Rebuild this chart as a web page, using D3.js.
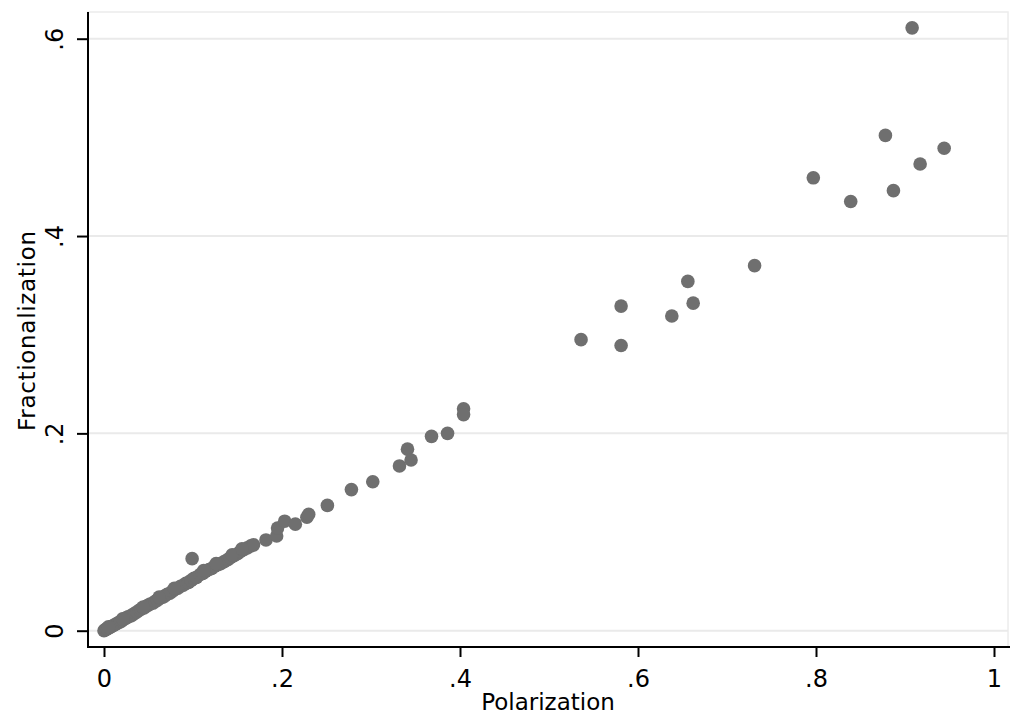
<!DOCTYPE html>
<html>
<head>
<meta charset="utf-8">
<script src="https://cdn.jsdelivr.net/npm/d3@7"></script>
<style>
  html, body { margin: 0; padding: 0; background: #fff; }
  svg { display: block; }
  text { font-family: "DejaVu Sans", sans-serif; }
</style>
</head>
<body>
<svg id="chart" width="1010" height="721"></svg>
<script>
// ---- Data ----
const xTicks = [0, 0.2, 0.4, 0.6, 0.8, 1];
const yTicks = [0, 0.2, 0.4, 0.6];
const xTitle = "Polarization";
const yTitle = "Fractionalization";

// Polarization values
const polarization = [
  0.000, 0.001, 0.002, 0.003, 0.004, 0.006, 0.008, 0.010, 0.012, 0.014,
  0.016, 0.018, 0.020, 0.023, 0.025, 0.027, 0.030, 0.032, 0.035, 0.037,
  0.040, 0.042, 0.045, 0.048, 0.050, 0.052, 0.055, 0.058, 0.060, 0.063,
  0.066, 0.068, 0.071, 0.074, 0.077, 0.080, 0.083, 0.086, 0.089, 0.092,
  0.095, 0.098, 0.101, 0.104, 0.108, 0.111, 0.114, 0.118, 0.121, 0.124,
  0.128, 0.131, 0.135, 0.139, 0.142, 0.146, 0.150, 0.153, 0.157, 0.161,
  0.165, 0.168, 0.182, 0.194, 0.195, 0.203, 0.215, 0.228, 0.230, 0.251,
  0.278, 0.302, 0.332, 0.341, 0.345, 0.368, 0.386, 0.404, 0.404, 0.099,
  0.536, 0.581, 0.581, 0.638, 0.656, 0.662, 0.731,
  0.797, 0.839, 0.878, 0.887, 0.908, 0.917, 0.944,
  0.005, 0.021, 0.044, 0.062, 0.079, 0.112, 0.126, 0.144, 0.155
];
// Fractionalization values
const fractionalization = [
  0.000, 0.001, 0.001, 0.002, 0.002, 0.003, 0.004, 0.005, 0.006, 0.007,
  0.008, 0.009, 0.010, 0.012, 0.013, 0.014, 0.015, 0.016, 0.018, 0.019,
  0.021, 0.022, 0.023, 0.025, 0.026, 0.027, 0.028, 0.030, 0.031, 0.033,
  0.034, 0.035, 0.037, 0.038, 0.040, 0.042, 0.043, 0.045, 0.046, 0.048,
  0.049, 0.051, 0.053, 0.054, 0.057, 0.058, 0.060, 0.062, 0.063, 0.065,
  0.067, 0.068, 0.070, 0.072, 0.074, 0.076, 0.078, 0.080, 0.082, 0.084,
  0.086, 0.087, 0.092, 0.096, 0.104, 0.111, 0.108, 0.115, 0.118, 0.127,
  0.143, 0.151, 0.167, 0.184, 0.173, 0.197, 0.200, 0.225, 0.219, 0.073,
  0.295, 0.329, 0.289, 0.319, 0.354, 0.332, 0.370,
  0.459, 0.435, 0.502, 0.446, 0.611, 0.473, 0.489,
  0.004, 0.012, 0.024, 0.034, 0.043, 0.061, 0.068, 0.077, 0.083
];

// ---- Layout ----
const svg = d3.select("#chart");
const axisLeftX = 88, axisBottomY = 647, plotTop = 12, plotRight = 1008;

const x = d3.scaleLinear().domain([0, 1]).range([104, 994]);
const y = d3.scaleLinear().domain([0, 0.6]).range([630.7, 38.7]);

const fmt = d => d === 0 ? "0" : d === 1 ? "1" : String(d).replace(/^0/, "");

// plot region outline
svg.append("rect")
  .attr("x", axisLeftX).attr("y", plotTop)
  .attr("width", plotRight - axisLeftX).attr("height", axisBottomY - plotTop)
  .attr("fill", "none").attr("stroke", "#ececec").attr("stroke-width", 1.5);

// gridlines
svg.append("g").selectAll("line").data(yTicks).join("line")
  .attr("x1", axisLeftX).attr("x2", plotRight)
  .attr("y1", d => y(d)).attr("y2", d => y(d))
  .attr("stroke", "#eaeaea").attr("stroke-width", 2);

// points
const pts = polarization.map((p, i) => ({ p, f: fractionalization[i] }));
svg.append("g").selectAll("circle").data(pts).join("circle")
  .attr("cx", d => x(d.p)).attr("cy", d => y(d.f))
  .attr("r", 6.8).attr("fill", "#6f6f6f");

// x axis
const gx = svg.append("g").attr("transform", `translate(0,${axisBottomY})`)
  .call(d3.axisBottom(x).tickValues(xTicks).tickFormat(fmt).tickSize(10).tickSizeOuter(0));
gx.select(".domain").remove();
gx.selectAll(".tick line").attr("stroke", "#000").attr("stroke-width", 2);
gx.selectAll(".tick text").attr("y", 40).attr("dy", 0)
  .attr("font-size", 24).attr("fill", "#000").attr("font-family", "DejaVu Sans");

// y axis
const gy = svg.append("g").attr("transform", `translate(${axisLeftX},0)`)
  .call(d3.axisLeft(y).tickValues(yTicks).tickFormat(fmt).tickSize(11).tickSizeOuter(0));
gy.select(".domain").remove();
gy.selectAll(".tick line").attr("stroke", "#000").attr("stroke-width", 2);
gy.selectAll(".tick text")
  .attr("x", 0).attr("y", 0).attr("dy", 0)
  .attr("text-anchor", "middle")
  .attr("transform", "translate(-25,0) rotate(-90)")
  .attr("font-size", 24).attr("fill", "#000").attr("font-family", "DejaVu Sans");

// axis lines
svg.append("line").attr("x1", axisLeftX - 1).attr("x2", plotRight + 2)
  .attr("y1", axisBottomY).attr("y2", axisBottomY)
  .attr("stroke", "#000").attr("stroke-width", 2);
svg.append("line").attr("x1", axisLeftX).attr("x2", axisLeftX)
  .attr("y1", plotTop).attr("y2", axisBottomY + 1)
  .attr("stroke", "#000").attr("stroke-width", 2);

// titles
svg.append("text").attr("x", 548).attr("y", 710)
  .attr("text-anchor", "middle").attr("font-size", 23).attr("fill", "#000")
  .text(xTitle);
svg.append("text")
  .attr("transform", "translate(35,331) rotate(-90)")
  .attr("text-anchor", "middle").attr("font-size", 23).attr("fill", "#000")
  .attr("textLength", 200).attr("lengthAdjust", "spacing")
  .text(yTitle);
</script>
</body>
</html>
